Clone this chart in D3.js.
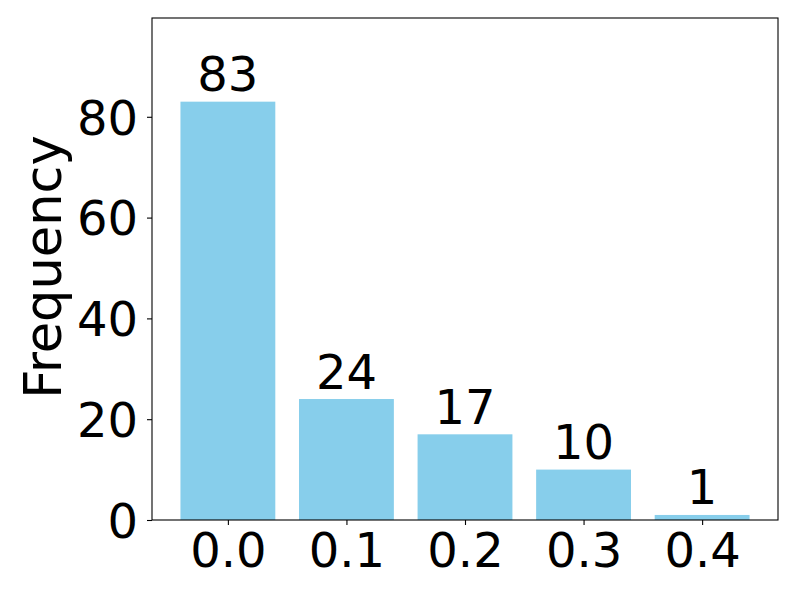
<!DOCTYPE html>
<html><head><meta charset="utf-8">
<script src="https://cdn.jsdelivr.net/npm/d3@7"></script>
<style>body{margin:0;background:#fff}svg{display:block}text{font-family:"DejaVu Sans",sans-serif;fill:#000}</style>
</head><body>
<script>
const categories = [0.0, 0.1, 0.2, 0.3, 0.4];
const values = [83, 24, 17, 10, 1];
const yTicks = [0, 20, 40, 60, 80];
const xTickLabels = ["0.0", "0.1", "0.2", "0.3", "0.4"];

const W = 797, H = 598;
const L = 152, R = 778, T = 18, B = 520;
const barW = 0.08;
const svg = d3.select("body").append("svg").attr("width", W).attr("height", H);

const x = d3.scaleLinear().domain([-0.064, 0.464]).range([L, R]);
const y = d3.scaleLinear().domain([0, d3.max(values) * 1.2]).range([B, T]);

svg.selectAll("rect.bar").data(values).join("rect")
  .attr("class", "bar")
  .attr("x", (d, i) => x(categories[i] - barW / 2))
  .attr("width", (d, i) => x(categories[i] + barW / 2) - x(categories[i] - barW / 2))
  .attr("y", d => y(d))
  .attr("height", d => y(0) - y(d))
  .attr("fill", "#87CEEB");

svg.selectAll("text.val").data(values).join("text")
  .attr("class", "val")
  .attr("x", (d, i) => x(categories[i]))
  .attr("y", d => y(d) - 10.5)
  .attr("text-anchor", "middle")
  .style("font-size", "48px")
  .text(d => d);

const yAxis = d3.axisLeft(y).tickValues(yTicks).tickSize(5).tickPadding(9).tickFormat(d3.format("d"));
const gy = svg.append("g").attr("transform", `translate(${L},0)`).call(yAxis);
gy.select(".domain").remove();
gy.selectAll("text").style("font-size", "48px").attr("dy", "0.36em");
gy.selectAll("line").attr("stroke", "#000").attr("stroke-width", 1.1);

const xAxis = d3.axisBottom(x).tickValues(categories).tickSize(5).tickPadding(6)
  .tickFormat((d, i) => xTickLabels[i]);
const gx = svg.append("g").attr("transform", `translate(0,${B})`).call(xAxis);
gx.select(".domain").remove();
gx.selectAll("text").style("font-size", "48px").attr("dy", "0.76em");
gx.selectAll("line").attr("stroke", "#000").attr("stroke-width", 1.1);

svg.append("rect").attr("x", L).attr("y", T).attr("width", R - L).attr("height", B - T)
  .attr("fill", "none").attr("stroke", "#000").attr("stroke-width", 1.1);

svg.append("text")
  .attr("transform", `translate(61,${(T + B) / 2 - 2}) rotate(-90)`)
  .attr("text-anchor", "middle")
  .style("font-size", "51px")
  .text("Frequency");
</script>
</body></html>
